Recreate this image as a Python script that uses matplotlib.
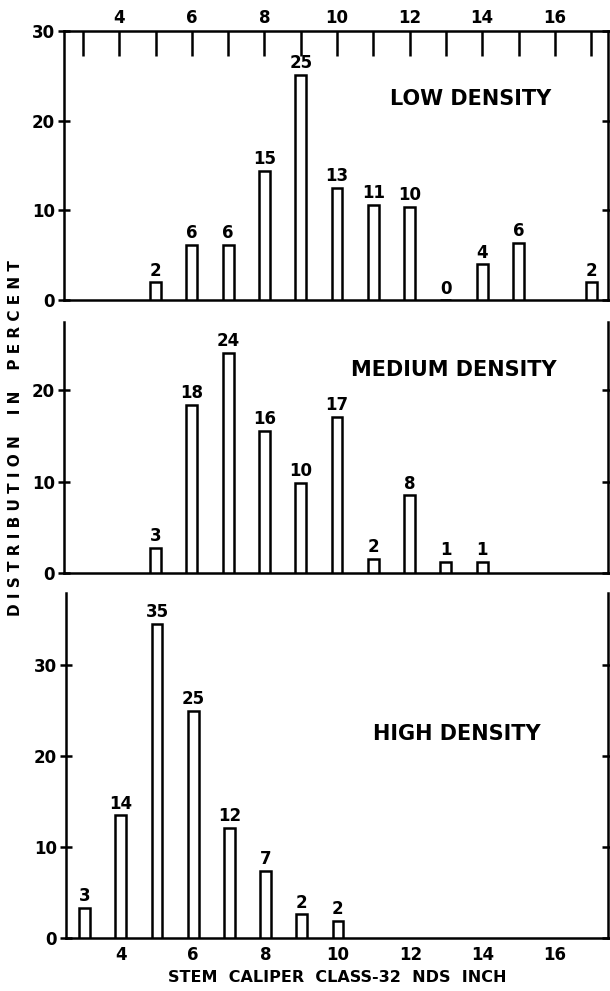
import matplotlib.pyplot as plt
from matplotlib.ticker import FixedLocator, FuncFormatter

# stem caliper classes (32nds of an inch) and percent distribution
low_classes = [5, 6, 7, 8, 9, 10, 11, 12, 13, 14, 15, 17]
low_values = [2.0, 6.2, 6.2, 14.4, 25.1, 12.5, 10.6, 10.4, 0.0, 4.0, 6.4, 2.0]
low_labels = ["2", "6", "6", "15", "25", "13", "11", "10", "0", "4", "6", "2"]

medium_classes = [5, 6, 7, 8, 9, 10, 11, 12, 13, 14]
medium_values = [2.7, 18.4, 24.1, 15.6, 9.9, 17.1, 1.5, 8.5, 1.2, 1.2]
medium_labels = ["3", "18", "24", "16", "10", "17", "2", "8", "1", "1"]

high_classes = [3, 4, 5, 6, 7, 8, 9, 10]
high_values = [3.3, 13.5, 34.6, 25.0, 12.1, 7.4, 2.6, 1.9]
high_labels = ["3", "14", "35", "25", "12", "7", "2", "2"]

panels = [
    ("LOW DENSITY", low_classes, low_values, low_labels, 30, [0, 10, 20, 30]),
    ("MEDIUM DENSITY", medium_classes, medium_values, medium_labels, 27.5, [0, 10, 20]),
    ("HIGH DENSITY", high_classes, high_values, high_labels, 38, [0, 10, 20, 30]),
]

# axes boxes in figure fractions: left, bottom, width, height
boxes = [
    [0.105, 0.697, 0.892, 0.272],
    [0.105, 0.422, 0.892, 0.253],
    [0.108, 0.0535, 0.889, 0.3485],
]
title_pos = [(0.747, 0.745), (0.716, 0.81), (0.72, 0.59)]

LW = 1.8
plt.rcParams["font.family"] = "DejaVu Sans"
plt.rcParams["font.weight"] = "bold"

fig = plt.figure(figsize=(6.1, 9.91), dpi=100)

even_fmt = FuncFormatter(lambda v, pos: f"{int(v)}" if int(v) % 2 == 0 and 4 <= v <= 16 else "")

for i, (name, classes, values, labels, ymax, yticks) in enumerate(panels):
    ax = fig.add_axes(boxes[i])
    ax.bar(classes, values, width=0.3, facecolor="white", edgecolor="black", linewidth=LW, zorder=3)
    for x, v, lab in zip(classes, values, labels):
        ax.text(x, v + 0.3, lab, ha="center", va="bottom", fontsize=12, fontweight="bold")
    ax.set_xlim(2.48, 17.47)
    ax.set_ylim(0, ymax)
    ax.set_yticks(yticks)
    ax.tick_params(axis="y", which="both", direction="inout", length=9, width=LW,
                   labelsize=12, right=True, pad=2)
    for side in ["left", "right", "bottom", "top"]:
        ax.spines[side].set_linewidth(LW)
    ax.text(title_pos[i][0], title_pos[i][1], name, transform=ax.transAxes,
            ha="center", va="center", fontsize=15, fontweight="bold")

    if i == 0:
        ax.xaxis.tick_top()
        ax.xaxis.set_major_locator(FixedLocator(list(range(3, 18))))
        ax.xaxis.set_major_formatter(even_fmt)
        ax.tick_params(axis="x", direction="in", length=18, width=LW, labelsize=12, pad=3)
    elif i == 1:
        ax.spines["top"].set_visible(False)
        ax.set_xticks([])
    else:
        ax.spines["top"].set_visible(False)
        ax.set_xticks([4, 6, 8, 10, 12, 14, 16])
        ax.tick_params(axis="x", length=0, labelsize=12, pad=6)
        ax.set_xlabel("STEM  CALIPER  CLASS-32  NDS  INCH", fontsize=11.5, fontweight="bold", labelpad=4)

fig.text(0.025, 0.558, "D I S T R I B U T I O N    I N    P E R C E N T", rotation=90,
         ha="center", va="center", fontsize=11, fontweight="bold")

fig.savefig("out.png", dpi=100)
